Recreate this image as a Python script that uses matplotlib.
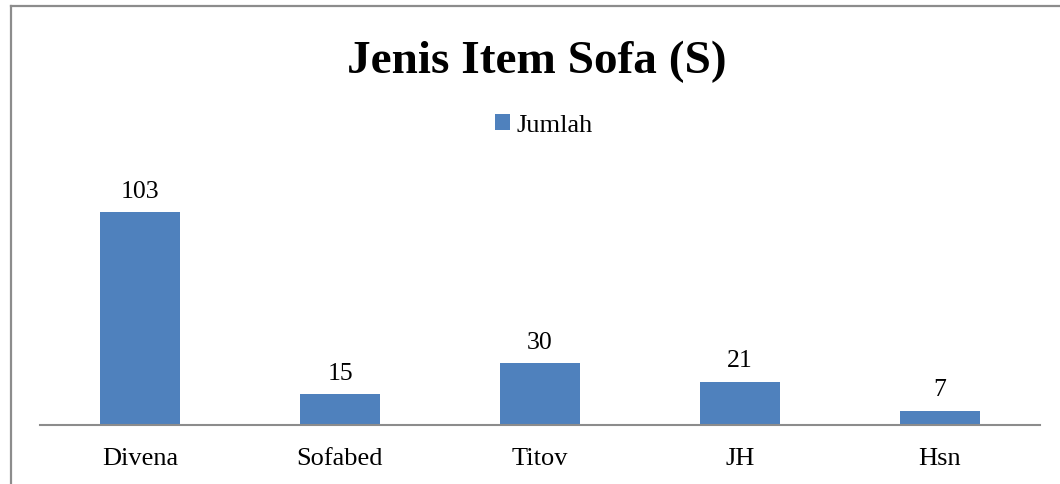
import matplotlib.pyplot as plt
from matplotlib.lines import Line2D

# === Daten ===
kategori = ["Divena", "Sofabed", "Titov", "JH", "Hsn"]
jumlah = [103, 15, 30, 21, 7]

BAR_COLOR = "#4F81BD"
plt.rcParams["font.family"] = ["Liberation Serif", "DejaVu Serif"]

W, H = 1060, 485
fig = plt.figure(figsize=(W / 100, H / 100), dpi=100)
ax = fig.add_axes([40 / W, (H - 426) / H, 1000 / W, 248 / H])

x = range(len(kategori))
bars = ax.bar(x, jumlah, width=0.4, color=BAR_COLOR, label="Jumlah")
ax.set_xlim(-0.5, len(kategori) - 0.5)
ax.set_ylim(0, 120)

for b, v in zip(bars, jumlah):
    ax.annotate(str(v), (b.get_x() + b.get_width() / 2, v), xytext=(0, 7.5),
                textcoords="offset points", ha="center", va="bottom", fontsize=18.5)

ax.set_xticks(list(x))
ax.set_xticklabels(kategori, fontsize=19)
ax.tick_params(axis="x", length=0, pad=16)
ax.set_yticks([])
for s in ["top", "right", "left"]:
    ax.spines[s].set_visible(False)
ax.spines["bottom"].set_color("#8c8c8c")
ax.spines["bottom"].set_linewidth(1.5)

fig.text(537 / W, 1 - 62 / H, "Jenis Item Sofa (S)", ha="center", va="center",
         fontsize=34, fontweight="bold")

fig.legend(handles=[bars], labels=["Jumlah"], loc="center", bbox_to_anchor=(544 / W, 1 - 126 / H),
           frameon=False, fontsize=19, handlelength=0.55, handleheight=0.55, handletextpad=0.25,
           borderpad=0)

# Rahmen (links und oben)
fig.add_artist(Line2D([10.5 / W, 10.5 / W], [0, 1 - 6.5 / H], color="#8c8c8c", lw=1.6,
                      transform=fig.transFigure))
fig.add_artist(Line2D([10.5 / W, 1], [1 - 6.5 / H, 1 - 6.5 / H], color="#8c8c8c", lw=1.6,
                      transform=fig.transFigure))

plt.savefig("out.png", dpi=100)
plt.close()
